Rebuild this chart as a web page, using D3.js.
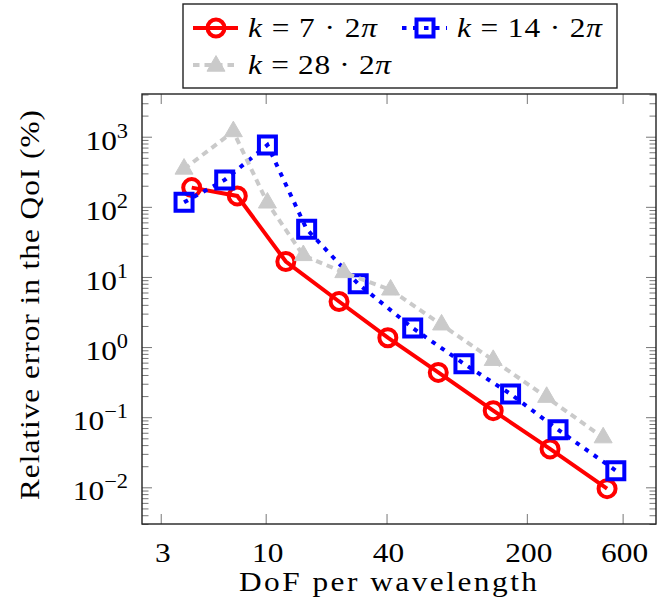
<!DOCTYPE html>
<html>
<head>
<meta charset="utf-8">
<script src="https://cdn.jsdelivr.net/npm/d3@7"></script>
<style>
  body { margin: 0; background: #fff; }
  text { font-family: "Liberation Serif", "DejaVu Serif", serif; fill: #000; }
</style>
</head>
<body>
<svg id="chart" width="657" height="614"></svg>
<script>
// DoF per wavelength (x) and relative error in % (y)
const dofK7  = [4.28, 7.22, 12.6, 23.2, 40.6, 72.4, 136, 261, 502];
const errK7  = [188, 143, 16.6, 4.47, 1.36, 0.435, 0.124, 0.0353, 0.00958];
const dofK14 = [3.92, 6.25, 10.2, 16.0, 28.9, 54.0, 97.2, 166, 286, 555];
const errK14 = [116, 242, 762, 48, 7.97, 1.87, 0.578, 0.214, 0.0664, 0.0173];
const dofK28 = [3.92, 6.90, 10.2, 15.4, 24.5, 41.9, 75.2, 136, 251, 480];
const errK28 = [347, 1186, 114, 20.3, 11.6, 6.55, 2.08, 0.649, 0.193, 0.0511];
const kFactors = ["7", "14", "28"];
const xTicks = [3, 10, 40, 200, 600];
const yExps  = [-2, -1, 0, 1, 2, 3];

const svg = d3.select("#chart");
const mLeft = 142, mRight = 656, mTop = 94, mBottom = 524;
const sx = 1.12; // horizontal widening of text, the original font is wider

const x = d3.scaleLog().domain([2.42, 880]).range([mLeft, mRight]);
const y = d3.scaleLog().domain([Math.pow(10, -2.523), Math.pow(10, 3.609)]).range([mBottom, mTop]);

const series = [
  {k: kFactors[0], xs: dofK7,  ys: errK7,  color: "#ff0000", dash: null,    mark: "circle",   w: 129},
  {k: kFactors[1], xs: dofK14, ys: errK14, color: "#0000ff", dash: "4.5 6.5", mark: "square", w: 145},
  {k: kFactors[2], xs: dofK28, ys: errK28, color: "#cacaca", dash: "6.5 5",  mark: "triangle", w: 143}
];

// ticks
const tickCol = "#777";
const minor = [];
for (let e = -3; e <= 3; e++) for (let m = 2; m <= 9; m++) {
  const v = m * Math.pow(10, e);
  if (v > y.domain()[0] && v < y.domain()[1]) minor.push(v);
}
const major = yExps.map(e => Math.pow(10, e));

function ticks(axis, size) {
  return g => { g.call(axis.tickSize(size).tickFormat("")); g.select(".domain").remove();
    g.selectAll("line").attr("stroke", tickCol).attr("stroke-width", 1); };
}
svg.append("g").attr("transform", `translate(0,${mBottom})`).call(ticks(d3.axisBottom(x).tickValues(xTicks), -10));
svg.append("g").attr("transform", `translate(0,${mTop})`).call(ticks(d3.axisTop(x).tickValues(xTicks), -10));
svg.append("g").attr("transform", `translate(${mLeft},0)`).call(ticks(d3.axisLeft(y).tickValues(major), -10));
svg.append("g").attr("transform", `translate(${mLeft},0)`).call(ticks(d3.axisLeft(y).tickValues(minor), -6.5));
svg.append("g").attr("transform", `translate(${mRight},0)`).call(ticks(d3.axisRight(y).tickValues(major), -10));
svg.append("g").attr("transform", `translate(${mRight},0)`).call(ticks(d3.axisRight(y).tickValues(minor), -6.5));

// tick labels
svg.append("g").selectAll("text").data(xTicks).join("text")
  .attr("transform", d => `translate(${x(d) + 2},562) scale(${sx},1)`).attr("text-anchor", "middle")
  .attr("font-size", 28).text(d => d);

const yl = svg.append("g").selectAll("text").data(yExps).join("text")
  .attr("transform", d => `translate(128,${y(Math.pow(10, d)) + 13}) scale(${sx},1)`).attr("text-anchor", "end")
  .attr("font-size", 28);
yl.append("tspan").text("10");
yl.append("tspan").attr("font-size", 20).attr("dy", -12).text(d => d < 0 ? "\u2212" + (-d) : d);

// box
svg.append("rect").attr("x", mLeft).attr("y", mTop).attr("width", mRight - mLeft).attr("height", mBottom - mTop)
  .attr("fill", "none").attr("stroke", "#222").attr("stroke-width", 1.4);

// axis titles
svg.append("text").attr("transform", `translate(239,591) scale(${sx},1)`)
  .attr("font-size", 28).attr("textLength", 298 / sx).attr("lengthAdjust", "spacing")
  .text("DoF per wavelength");
svg.append("text").attr("transform", `translate(39,500) rotate(-90) scale(${sx},1)`)
  .attr("font-size", 28).attr("textLength", 390 / sx).attr("lengthAdjust", "spacing")
  .text("Relative error in the QoI (%)");

// marks
function drawMark(g, s, px, py) {
  if (s.mark === "circle") {
    g.append("circle").attr("cx", px).attr("cy", py).attr("r", 8.5)
      .attr("fill", "none").attr("stroke", s.color).attr("stroke-width", 4);
  } else if (s.mark === "square") {
    g.append("path").attr("transform", `translate(${px},${py})`)
      .attr("d", d3.symbol(d3.symbolSquare, 289)())
      .attr("fill", "none").attr("stroke", s.color).attr("stroke-width", 4);
  } else {
    g.append("path").attr("transform", `translate(${px},${py})`)
      .attr("d", d3.symbol(d3.symbolTriangle, 140)())
      .attr("fill", s.color).attr("stroke", s.color).attr("stroke-width", 1);
  }
}

const line = d3.line().x(d => x(d[0])).y(d => y(d[1]));
series.forEach(s => {
  const g = svg.append("g");
  const pts = s.xs.map((v, i) => [v, s.ys[i]]);
  g.append("path").attr("d", line(pts)).attr("fill", "none")
    .attr("stroke", s.color).attr("stroke-width", 4).attr("stroke-dasharray", s.dash);
  pts.forEach(p => drawMark(g, s, x(p[0]), y(p[1])));
});

// legend
const lg = svg.append("g");
lg.append("rect").attr("x", 183).attr("y", 4).attr("width", 434).attr("height", 84)
  .attr("fill", "#fff").attr("stroke", "#222").attr("stroke-width", 1.4);
const slots = [{x: 193, y: 28}, {x: 402, y: 28}, {x: 193, y: 65}];
series.forEach((s, i) => {
  const sl = slots[i];
  const g = lg.append("g");
  g.append("line").attr("x1", sl.x).attr("x2", sl.x + 45).attr("y1", sl.y).attr("y2", sl.y)
    .attr("stroke", s.color).attr("stroke-width", 4).attr("stroke-dasharray", s.dash);
  drawMark(g, s, sl.x + 23, sl.y + (s.mark === "triangle" ? 1 : 0));
  const t = g.append("text").attr("transform", `translate(${sl.x + 55},${sl.y + 9}) scale(${sx},1)`)
    .attr("font-size", 28).attr("textLength", s.w / sx).attr("lengthAdjust", "spacing");
  t.append("tspan").attr("font-style", "italic").text("k");
  t.append("tspan").text(` = ${s.k} \u00b7 2`);
  t.append("tspan").attr("font-style", "italic").text("\u03c0");
});
</script>
</body>
</html>
